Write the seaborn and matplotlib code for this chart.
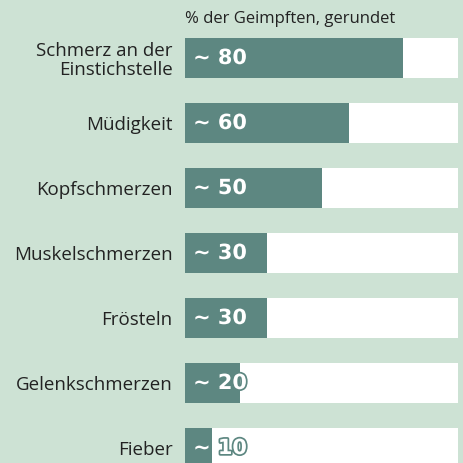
import pandas as pd
import matplotlib.pyplot as plt
import matplotlib.patheffects as pe
import seaborn as sns

categories = ['Schmerz an der\nEinstichstelle', 'Müdigkeit', 'Kopfschmerzen',
              'Muskelschmerzen', 'Frösteln', 'Gelenkschmerzen', 'Fieber']
values = [80, 60, 50, 30, 30, 20, 10]
full = [100] * len(categories)

bg = '#cde2d4'
bar_color = '#5d8781'

sns.set_theme(style='white')
plt.rcParams['font.family'] = ['Source Sans Pro', 'Open Sans', 'DejaVu Sans']

df = pd.DataFrame({'Symptom': categories, 'Wert': values, 'Voll': full})

fig = plt.figure(figsize=(4.63, 4.63), dpi=100, facecolor=bg)
ax = fig.add_axes([185 / 463, 0, 273 / 463, 1])
ax.set_facecolor(bg)

# white track = 100 %, teal bar = value
sns.barplot(data=df, y='Symptom', x='Voll', color='white', width=0.615,
            saturation=1, linewidth=0, ax=ax)
sns.barplot(data=df, y='Symptom', x='Wert', color=bar_color, width=0.615,
            saturation=1, linewidth=0, ax=ax)

ax.set_xlim(0, 100)
ax.set_ylim((463 - 58) / 65, -58 / 65)
for s in ax.spines.values():
    s.set_visible(False)
ax.set_xticks([])
ax.set_xlabel('')
ax.set_ylabel('')
ax.tick_params(axis='y', length=0, pad=9, labelsize=13.5, labelcolor='#222222')
for lab in ax.get_yticklabels():
    lab.set_linespacing(1.05)

for i, v in enumerate(values):
    ax.text(3, i, f'~ {v}', va='center', ha='left', color='white',
            fontsize=15, fontweight='bold', family=['DejaVu Sans'],
            path_effects=[pe.withStroke(linewidth=2.5, foreground=bar_color)])

fig.text(185 / 463, 1 - 19 / 463, '% der Geimpften, gerundet', ha='left',
         va='center', fontsize=12, color='#222222')

fig.savefig('out.png', dpi=100, facecolor=bg)
